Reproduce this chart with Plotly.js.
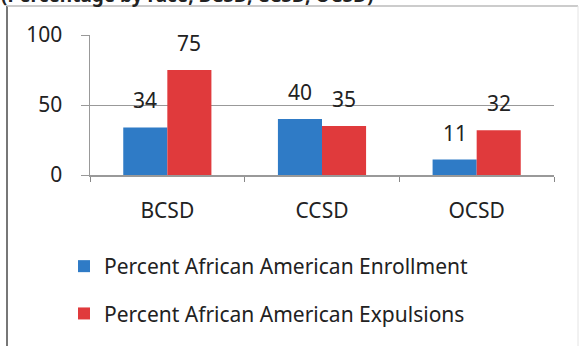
<!DOCTYPE html>
<html>
<head>
<meta charset="utf-8">
<script src="https://cdn.plot.ly/plotly-3.0.1.min.js"></script>
<style>
  html, body { margin: 0; padding: 0; background: #fff; }
  #chart { width: 581px; height: 346px; }
</style>
</head>
<body>
<div id="chart"></div>
<script>
// Districts and shares of African American students (%)
const districts = ['BCSD', 'CCSD', 'OCSD'];
const enrollment = [34, 40, 11];
const expulsions = [75, 35, 32];
const seriesNames = ['Percent African American Enrollment', 'Percent African American Expulsions'];
const chartTitle = '(Percentage by race, BCSD, CCSD, OCSD)';

const FONT = 'Noto Sans, Open Sans, sans-serif';
const BLUE = '#2F7BC6';
const RED = '#E03A3C';

// Plot area in pixels: x 90..554, y 35..175
const L = 90, R = 554, T = 35, B = 175;
const px = x => (x - L) / (R - L);
const py = y => (B - y) / (B - T);

const traces = [
  { type: 'bar', x: districts, y: enrollment, name: seriesNames[0],
    marker: { color: BLUE }, legendgroup: 'a', hoverinfo: 'skip' },
  { type: 'bar', x: districts, y: expulsions, name: seriesNames[1],
    marker: { color: RED }, legendgroup: 'b', hoverinfo: 'skip' }
];

// Value labels above each bar
const annotations = [];
[enrollment, expulsions].forEach((vals, s) => {
  vals.forEach((v, i) => {
    annotations.push({
      x: districts[i], y: v, xref: 'x', yref: 'y',
      text: String(v), showarrow: false,
      xshift: s === 0 ? -22 : 22, yshift: 27,
      font: { family: FONT, size: 21, color: '#222' }
    });
  });
});
annotations.push({
  xref: 'paper', yref: 'paper', x: px(0), y: py(9), xanchor: 'left', yanchor: 'bottom',
  text: '<b>' + chartTitle + '</b>', showarrow: false, borderpad: 0,
  font: { family: FONT, size: 19, color: '#222' }
});

const frameLine = (x0, y0, x1, y1, color, w) => ({
  type: 'line', xref: 'paper', yref: 'paper',
  x0: px(x0), y0: py(y0), x1: px(x1), y1: py(y1),
  line: { color: color, width: w }
});

const layout = {
  width: 581, height: 346,
  margin: { l: L, r: 581 - R, t: T, b: 346 - B, pad: 0, autoexpand: false },
  paper_bgcolor: '#fff', plot_bgcolor: '#fff',
  font: { family: FONT, size: 21, color: '#222' },
  showlegend: true,
  barmode: 'group', bargap: 0.43, bargroupgap: 0,
  xaxis: {
    type: 'category', tickson: 'boundaries', ticks: 'outside', ticklen: 5,
    tickcolor: '#888', showline: true, linecolor: '#999', linewidth: 1.5,
    showgrid: false, ticklabelstandoff: 16, fixedrange: true, automargin: false,
    tickfont: { family: FONT, size: 21, color: '#222' }
  },
  yaxis: {
    range: [0, 100], tickvals: [0, 50, 100], ticks: 'outside', ticklen: 8,
    tickcolor: '#999', showline: true, linecolor: '#999', linewidth: 1.5,
    showgrid: true, gridcolor: '#999', gridwidth: 1, zeroline: false,
    ticklabelstandoff: 14, fixedrange: true, automargin: false,
    tickfont: { family: FONT, size: 21, color: '#222' }
  },
  legend: {
    orientation: 'v', x: px(64), y: py(246), xanchor: 'left', yanchor: 'top',
    traceorder: 'grouped', tracegroupgap: 17, itemwidth: 30,
    font: { family: FONT, size: 21, color: '#222' }, bgcolor: 'rgba(0,0,0,0)'
  },
  annotations: annotations,
  shapes: [
    frameLine(7, 6, 7, 346, '#777', 2),
    frameLine(7, 6, 578, 6, '#bbb', 1.5),
    frameLine(578, 6, 578, 346, '#e4e4e4', 1)
  ]
};

Plotly.newPlot('chart', traces, layout, { displayModeBar: false, staticPlot: true });
</script>
</body>
</html>
